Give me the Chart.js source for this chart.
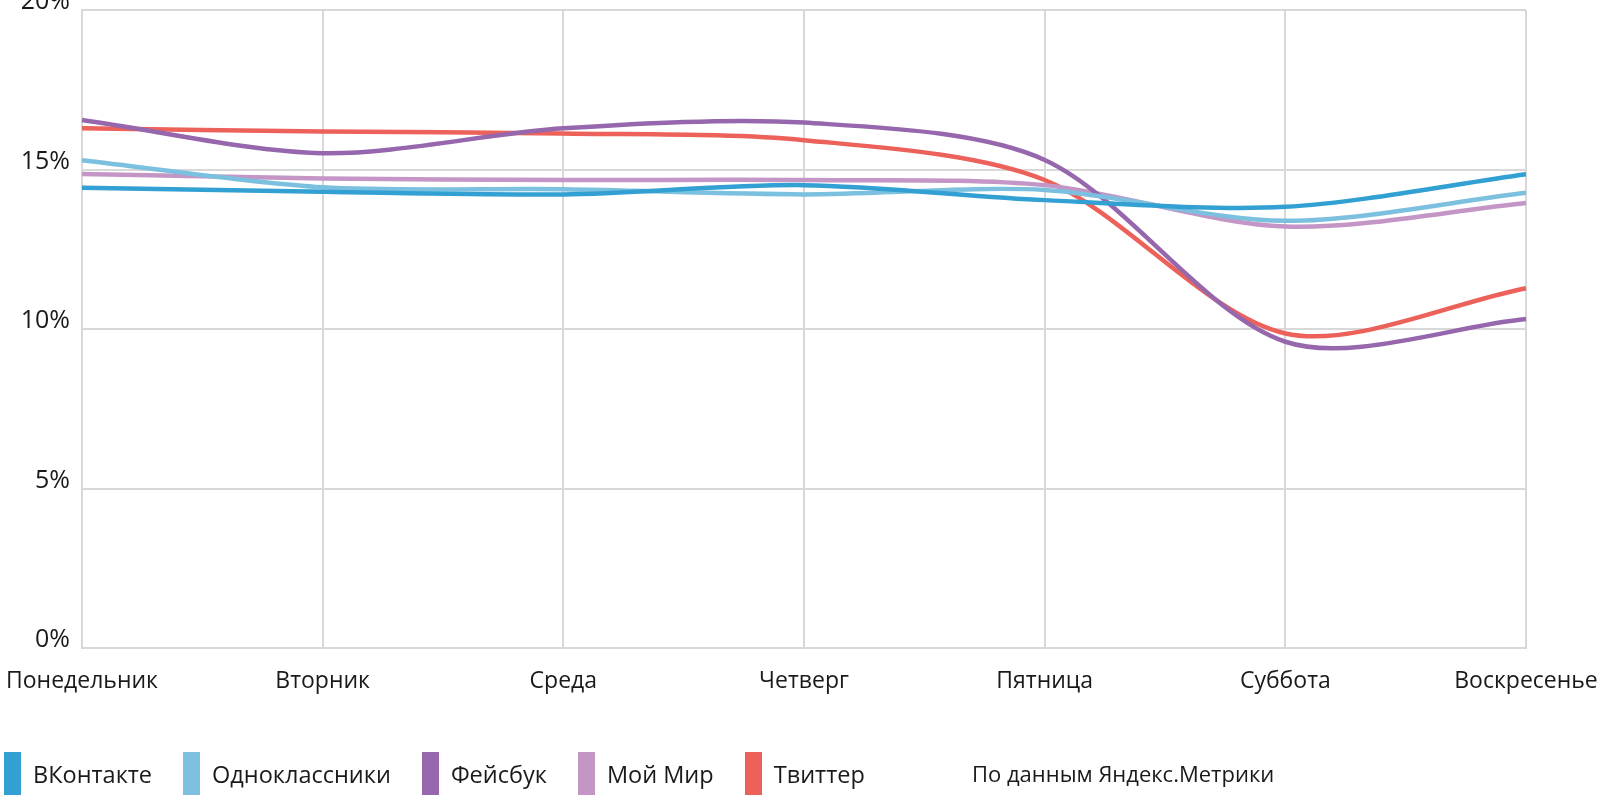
<!DOCTYPE html>
<html lang="ru">
<head>
<meta charset="utf-8">
<title>Активность по дням недели</title>
<script src="https://cdn.jsdelivr.net/npm/chart.js@4/dist/chart.umd.min.js"></script>
<style>
  html, body { margin: 0; padding: 0; background: #fff; overflow: hidden; }
  .wrap { position: relative; width: 1604px; height: 795px; }
  .leyenda {
    position: absolute; left: 4px; top: 752px; height: 43px;
    display: flex; align-items: center;
    font-family: "Open Sans", sans-serif; font-size: 23.5px; color: #1a1a1a;
  }
  .item { display: flex; align-items: center; margin-right: 31px; height: 43px; }
  .caja { width: 17px; height: 43px; margin-right: 12px; }
  .fuente {
    position: absolute; left: 972px; top: 752px; height: 43px; line-height: 43px;
    font-family: "Open Sans", sans-serif; font-size: 22px; color: #1a1a1a;
  }
</style>
</head>
<body>
<div class="wrap">
  <canvas class="grafico" width="1604" height="795"></canvas>
  <div class="leyenda"></div>
  <div class="fuente">По данным Яндекс.Метрики</div>
</div>
<script>
const canvas = document.querySelector(".grafico");
const leyenda = document.querySelector(".leyenda");

const dias = ["Понедельник", "Вторник", "Среда", "Четверг", "Пятница", "Суббота", "Воскресенье"];
const redes = ["ВКонтакте", "Одноклассники", "Фейсбук", "Мой Мир", "Твиттер"];
const colores = ["#32a0d2", "#7cc0e0", "#9667ad", "#c396c6", "#ec6159"];

// доля визитов за день недели, %
const vkontakte = [14.43, 14.30, 14.22, 14.51, 14.04, 13.83, 14.85];
const odnoklassniki = [15.29, 14.44, 14.38, 14.22, 14.36, 13.39, 14.27];
const facebook = [16.55, 15.51, 16.29, 16.47, 15.30, 9.60, 10.31];
const moiMir = [14.86, 14.72, 14.67, 14.67, 14.51, 13.21, 13.95];
const twitter = [16.29, 16.19, 16.13, 15.92, 14.67, 9.86, 11.28];
const ticksY = [0, 5, 10, 15, 20];

const series = [vkontakte, odnoklassniki, facebook, moiMir, twitter];
const fuente = "'Open Sans', sans-serif";
const gris = "#d8d8d8";

const datasets = series.map((valores, i) => ({
  label: redes[i],
  data: valores,
  borderColor: colores[i],
  backgroundColor: colores[i],
  borderWidth: 4.5,
  tension: 0.3,
  pointRadius: 0,
  pointHoverRadius: 0,
  fill: false
}));

const config = {
  type: "line",
  data: { labels: dias, datasets: datasets },
  options: {
    responsive: false,
    animation: false,
    devicePixelRatio: 1,
    layout: { padding: { top: 10, right: 78, bottom: 0, left: 0 } },
    plugins: { legend: { display: false }, tooltip: { enabled: false } },
    scales: {
      x: {
        grid: { color: gris, lineWidth: 2, drawTicks: false },
        border: { color: gris, width: 2 },
        ticks: {
          color: "#1a1a1a", padding: 20, maxRotation: 0, autoSkip: false,
          font: { family: fuente, size: 23 }
        },
        afterFit: (scale) => {
          scale.height = 147;
          scale.paddingLeft = 0;
          scale.paddingRight = 0;
        }
      },
      y: {
        min: ticksY[0],
        max: ticksY[ticksY.length - 1],
        afterBuildTicks: (scale) => { scale.ticks = ticksY.map((v) => ({ value: v })); },
        grid: { color: gris, lineWidth: 2, drawTicks: false },
        border: { color: gris, width: 2 },
        ticks: {
          color: "#1a1a1a", padding: 12, labelOffset: -8,
          font: { family: fuente, size: 25 },
          callback: (v) => v + "%"
        },
        afterFit: (scale) => {
          scale.width = 82;
          scale.paddingTop = 0;
          scale.paddingBottom = 0;
        }
      }
    }
  }
};

new Chart(canvas, config);

// leyenda con las mismas redes y colores
redes.forEach((nombre, i) => {
  const item = document.createElement("div");
  item.className = "item";
  item.innerHTML = `<span class="caja" style="background:${colores[i]}"></span><span>${nombre}</span>`;
  leyenda.appendChild(item);
});
</script>
</body>
</html>
